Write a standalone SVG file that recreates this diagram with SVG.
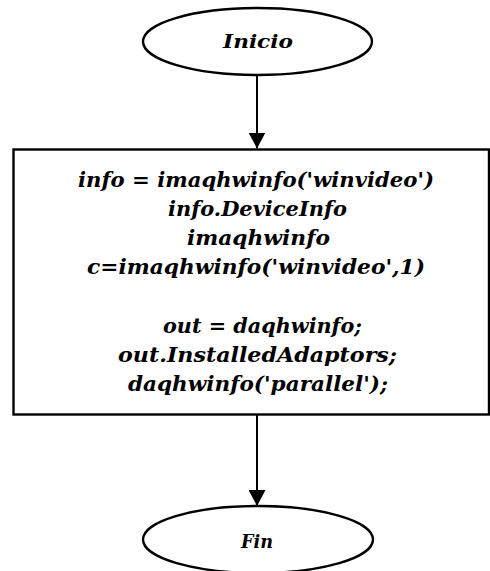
<svg xmlns="http://www.w3.org/2000/svg" width="490" height="571" viewBox="0 0 490 571">
  <style>
    .shape { fill: #ffffff; stroke: #000000; stroke-width: 2.4; }
    .edge { stroke: #000000; stroke-width: 2; fill: none; }
    .lbl { font-family: "DejaVu Serif", "Liberation Serif", serif; font-weight: bold; font-style: italic; font-size: 19px; fill: #000000; text-anchor: middle; }
    .code { font-size: 21px; }
  </style>
  <defs>
    <marker id="arrow" viewBox="0 0 16 17" markerWidth="16" markerHeight="17" refX="16" refY="8.5" orient="auto" markerUnits="userSpaceOnUse">
      <path d="M0,0 L16,8.5 L0,17 Z" fill="#000000"/>
    </marker>
  </defs>

  <rect width="490" height="571" fill="#ffffff"/>

  <!-- connectors -->
  <g id="connectors">
    <line class="edge" x1="257" y1="75" x2="257" y2="148.5" marker-end="url(#arrow)"/>
    <line class="edge" x1="257" y1="414.5" x2="257" y2="506" marker-end="url(#arrow)"/>
  </g>

  <!-- start terminal -->
  <g id="inicio">
    <ellipse class="shape" cx="257.5" cy="41.5" rx="114.5" ry="33.5"/>
    <text class="lbl" x="258" y="48" textLength="70" lengthAdjust="spacingAndGlyphs">Inicio</text>
  </g>

  <!-- process block -->
  <g id="proceso">
    <rect class="shape" x="13.5" y="149.5" width="475.5" height="265"/>
    <text class="lbl code" x="256" y="187" textLength="356" lengthAdjust="spacingAndGlyphs">info = imaqhwinfo('winvideo')</text>
    <text class="lbl code" x="257.5" y="216" textLength="179" lengthAdjust="spacingAndGlyphs">info.DeviceInfo</text>
    <text class="lbl code" x="258.5" y="245" textLength="143" lengthAdjust="spacingAndGlyphs">imaqhwinfo</text>
    <text class="lbl code" x="256" y="274" textLength="338" lengthAdjust="spacingAndGlyphs">c=imaqhwinfo('winvideo',1)</text>
    <text class="lbl code" x="262.5" y="333" textLength="199" lengthAdjust="spacingAndGlyphs">out = daqhwinfo;</text>
    <text class="lbl code" x="257.5" y="362" textLength="279" lengthAdjust="spacingAndGlyphs">out.InstalledAdaptors;</text>
    <text class="lbl code" x="258" y="391" textLength="260" lengthAdjust="spacingAndGlyphs">daqhwinfo('parallel');</text>
  </g>

  <!-- end terminal -->
  <g id="fin">
    <ellipse class="shape" cx="258" cy="539.5" rx="115" ry="33.5"/>
    <text class="lbl" x="257" y="548" textLength="32" lengthAdjust="spacingAndGlyphs">Fin</text>
  </g>
</svg>
